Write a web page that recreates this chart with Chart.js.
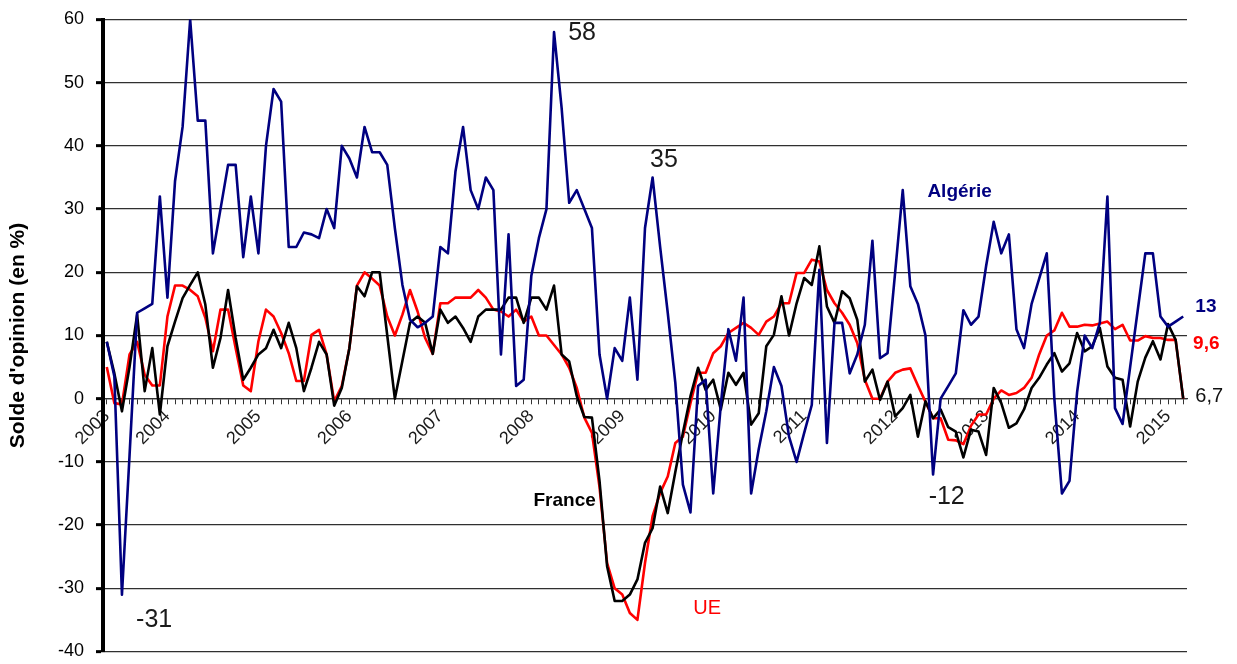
<!DOCTYPE html>
<html>
<head>
<meta charset="utf-8">
<script src="https://cdn.jsdelivr.net/npm/chart.js@4.4.0/dist/chart.umd.min.js"></script>
<style>
    html, body { margin: 0; padding: 0; background: #ffffff; }
    #wrap { width: 1237px; height: 664px; }
</style>
</head>
<body>
<div id="wrap"><canvas id="soldeChart" width="1237" height="664"></canvas></div>
<script>
// series, one value per month (mai 2003 -> mars 2015)
var algerie = [
    9, 3.5, -31, -9, 13.6, 14.3, 15, 32, 16, 34.4,
    43, 60, 44, 44, 23, 30, 37, 37, 22.4, 32,
    23, 40, 49, 47, 24, 24, 26.3, 26, 25.4, 30,
    27, 40, 38, 35, 43, 39, 39, 37, 27, 18,
    12.5, 11.3, 12, 13, 24, 23, 36, 43, 33, 30,
    35, 33, 7, 26, 2, 3, 19.4, 25.4, 30, 58,
    46, 31, 33, 30, 27, 7, 0, 8, 6, 16,
    3, 27, 35, 24, 13.6, 2.5, -13.6, -18, 2, 3,
    -15, -1, 11, 6, 16, -15, -8, -2, 5, 2,
    -6, -10, -5.4, -1, 20.4, -7, 12, 12, 4, 7,
    11.7, 25, 6.4, 7.2, 20, 33, 17.8, 15, 10, -12,
    0, 2, 4, 14, 11.7, 13, 21, 28, 23, 26,
    11, 8, 15, 19, 23, 0, -15, -13, 1, 10,
    8, 12, 32, -1.5, -4, 5, 14, 23, 23, 13,
    11.4, 12.2, 13
]
var france = [
    9, 4, -2, 5, 13.3, 1.2, 8, -2.5, 8.3, 12.2,
    15.9, 18, 20, 14.9, 4.9, 9.6, 17.2, 9.6, 3, 4.9,
    7, 8, 10.9, 8, 12, 8, 1.2, 4.9, 9, 7,
    -1.1, 1.7, 8, 17.8, 16.2, 20, 20, 10, 0, 6,
    12, 13, 12, 7.1, 14.1, 12, 13, 11.2, 9, 13,
    14.1, 14.1, 14.1, 16, 16, 12, 16, 16, 14.1, 17.9,
    7, 5.9, 0.4, -2.9, -3, -13, -26.5, -32, -32, -31,
    -28.6, -22.8, -20.5, -13.9, -18.1, -11.6, -5.4, 0.4, 4.9, 1.4,
    3, -1.7, 4.1, 2.2, 4.1, -4.1, -2.3, 8.3, 10.1, 16.2,
    10, 15.1, 19.1, 18, 24.1, 14.6, 12, 17, 15.9, 12.5,
    2.7, 4.6, -0.2, 2.7, -2.8, -1.5, 0.6, -6, -0.4, -3.1,
    -1.7, -4.5, -5.2, -9.3, -4.9, -5.2, -8.9, 1.7, -0.7, -4.6,
    -3.9, -1.7, 1.7, 3.3, 5.4, 7.2, 4.3, 5.6, 10.4, 7.5,
    8.3, 11.2, 5.1, 3.3, 3, -4.4, 2.7, 6.5, 9.1, 6.2,
    11.8, 9.3, 0
]
var ue = [
    5, -0.7, -0.9, 7, 9, 3.8, 2.1, 2.1, 13, 17.9,
    17.9, 17.2, 16.2, 12.8, 7.5, 14.1, 14.1, 8, 2.1, 1.2,
    9.1, 14.1, 13, 10.4, 7.2, 2.8, 2.8, 10.1, 10.9, 7,
    -0.4, 2, 8, 17.9, 20, 19, 17.9, 13, 10, 13.3,
    17.2, 13.8, 9.6, 7.1, 15.1, 15.1, 16, 16, 16, 17.2,
    16, 14.1, 13.8, 13, 14.1, 12.2, 13, 10, 10, 8.5,
    7, 4.9, 1.7, -3, -5.4, -14, -26, -30, -31, -33.9,
    -35, -26, -18.6, -14.9, -12.3, -7, -6, -0.7, 4.1, 4.1,
    7.2, 8.3, 10.4, 11.2, 12, 11.2, 10.1, 12.2, 13, 15.1,
    15.1, 19.9, 19.9, 22, 21.7, 17.2, 15.1, 13.6, 11.7, 8.8,
    3, 0, 0, 2.7, 4.1, 4.6, 4.8, 2.1, -0.5, -3.1,
    -3.1, -6.5, -6.6, -7.2, -4.3, -2.5, -2.5, 0, 1.3, 0.6,
    0.9, 1.7, 3.3, 7, 10, 10.8, 13.6, 11.4, 11.4, 11.7,
    11.6, 11.9, 12.2, 11, 11.7, 9.2, 9.2, 9.9, 9.6, 9.6,
    9.3, 9.3, 0
]
var startYear = 2003
var startMonth = 5
var yTicks = { min: -40, max: 60, step: 10 }

// month categories, year shown on january only
var months = []
for (var i = 0; i < algerie.length; i++) {
    var m = startMonth - 1 + i
    var mm = (m % 12) + 1
    months.push((startYear + Math.floor(m / 12)) + '-' + (mm < 10 ? '0' + mm : mm))
}

var FONT = "Arial, 'Liberation Sans', sans-serif"

// text written on the plot
var notes = [
    { text: '58', i: 62.7, v: 57.9, align: 'center', color: '#1a1a1a', font: '25px ' + FONT },
    { text: '35', i: 73.5, v: 37.7, align: 'center', color: '#1a1a1a', font: '25px ' + FONT },
    { text: '-31', i: 6.25, v: -35.0, align: 'center', color: '#1a1a1a', font: '25px ' + FONT },
    { text: '-12', i: 110.8, v: -15.6, align: 'center', color: '#1a1a1a', font: '25px ' + FONT },
    { text: 'Algérie', i: 112.5, v: 32.8, align: 'center', color: '#000080', font: 'bold 19px ' + FONT },
    { text: 'France', i: 60.4, v: -16.1, align: 'center', color: '#000000', font: 'bold 19px ' + FONT },
    { text: 'UE', i: 79.2, v: -33.2, align: 'center', color: '#ff0000', font: '20px ' + FONT },
    { text: '13', i: 143.6, v: 14.6, align: 'left', color: '#000080', font: 'bold 19px ' + FONT },
    { text: '9,6', i: 143.3, v: 8.7, align: 'left', color: '#ff0000', font: 'bold 19px ' + FONT },
    { text: '6,7', i: 143.6, v: 0.3, align: 'left', color: '#111111', font: '20px ' + FONT }
]

var notesPlugin = {
    id: 'notes',
    afterDatasetsDraw: function (chart) {
        var ctx = chart.ctx
        var xs = chart.scales.x
        var ys = chart.scales.y
        ctx.save()
        ctx.textBaseline = 'middle'
        notes.forEach(function (n) {
            ctx.font = n.font
            ctx.fillStyle = n.color
            ctx.textAlign = n.align
            ctx.fillText(n.text, xs.getPixelForValue(n.i), ys.getPixelForValue(n.v))
        })
        ctx.restore()
    }
}

var ctx = document.getElementById('soldeChart')
var soldeChart = new Chart(ctx, {
    type: 'line',
    data: {
        labels: months,
        datasets: [
            { label: 'Algérie', data: algerie, borderColor: '#000080', borderWidth: 2.6, order: 1 },
            { label: 'France', data: france, borderColor: '#000000', borderWidth: 2.6, order: 2 },
            { label: 'UE', data: ue, borderColor: '#ff0000', borderWidth: 2.6, order: 3 }
        ]
    },
    options: {
        responsive: false,
        animation: false,
        devicePixelRatio: 1,
        layout: { padding: { top: 19.5, right: 50, bottom: 12.5, left: 0 } },
        elements: {
            point: { radius: 0, hoverRadius: 0 },
            line: { tension: 0, fill: false, borderJoinStyle: 'round' }
        },
        plugins: {
            legend: { display: false },
            tooltip: { enabled: false }
        },
        scales: {
            x: {
                type: 'category',
                position: { y: 0 },
                offset: true,
                grid: {
                    display: true,
                    offset: false,
                    drawOnChartArea: false,
                    drawTicks: true,
                    tickLength: 5,
                    tickWidth: 1,
                    tickColor: '#333333'
                },
                border: { display: true, color: '#333333', width: 1.3 },
                ticks: {
                    autoSkip: false,
                    minRotation: 45,
                    maxRotation: 45,
                    padding: 2,
                    color: '#1a1a1a',
                    font: { family: FONT, size: 18 },
                    callback: function (value, index) {
                        var lab = this.getLabelForValue(value)
                        return (index === 0 || lab.slice(5) === '01') ? lab.slice(0, 4) : ''
                    }
                }
            },
            y: {
                min: yTicks.min,
                max: yTicks.max,
                afterFit: function (scale) {
                    // fixed axis width, no extra room above/below for labels
                    scale.width = 103
                    scale.paddingTop = 0
                    scale.paddingBottom = 0
                },
                grid: {
                    color: '#303030',
                    lineWidth: 1.3,
                    drawTicks: true,
                    tickLength: 7,
                    tickWidth: 3,
                    tickColor: '#000000'
                },
                border: { display: true, color: '#000000', width: 4 },
                ticks: {
                    stepSize: yTicks.step,
                    padding: 12,
                    color: '#000000',
                    font: { family: FONT, size: 18 }
                },
                title: {
                    display: true,
                    text: "Solde d'opinion (en %)",
                    color: '#000000',
                    font: { family: FONT, size: 21, weight: 'bold' },
                    padding: { top: 6, bottom: 0 }
                }
            }
        }
    },
    plugins: [notesPlugin]
})
</script>
</body>
</html>
